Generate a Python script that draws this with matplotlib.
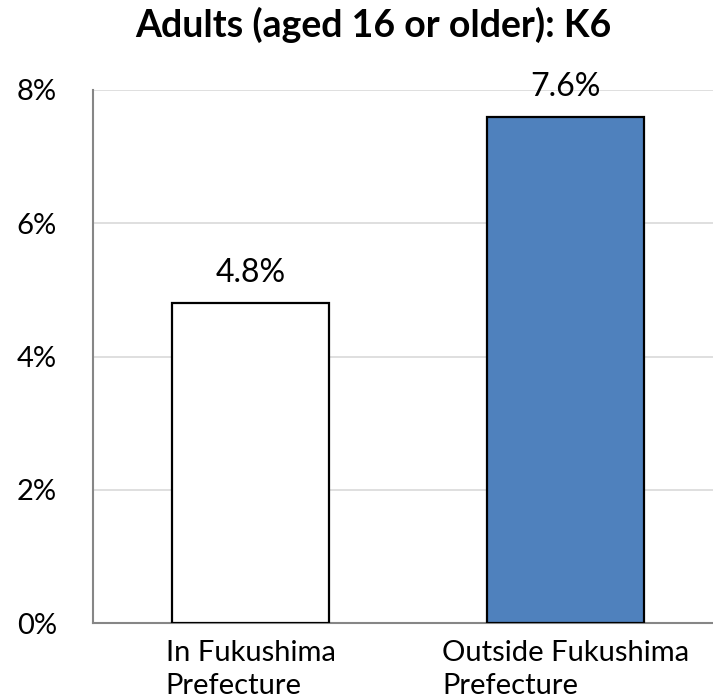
import matplotlib.pyplot as plt
from matplotlib.ticker import FuncFormatter

categories = ["In Fukushima\nPrefecture", "Outside Fukushima\nPrefecture"]
values = [4.8, 7.6]
bar_colors = ["#FFFFFF", "#4F81BD"]
yticks = [0, 2, 4, 6, 8]

plt.rcParams['font.family'] = ['Lato', 'DejaVu Sans']

fig = plt.figure(figsize=(7.13, 6.98), dpi=100)
ax = fig.add_axes([93 / 713, 75 / 698, 630 / 713, 533 / 698])

x = list(range(len(values)))
ax.bar(x, values, width=0.5, color=bar_colors, edgecolor="black", linewidth=1.6, zorder=3)

for xi, v in zip(x, values):
    ax.annotate(f"{v:.1f}%", (xi, v), xytext=(0, 15), textcoords="offset points",
                ha="center", va="baseline", fontsize=23, color="#000000", zorder=4)

ax.set_xlim(-0.5, 1.5)
ax.set_ylim(0, 8)
ax.set_yticks(yticks)
ax.yaxis.set_major_formatter(FuncFormatter(lambda v, p: f"{v:.0f}%"))
ax.set_xticks(x)
ax.set_xticklabels(categories, fontsize=21, multialignment="left", linespacing=1.35)
# Excel nudges the first label a little to the left
ax.get_xticklabels()[0].set_x(-0.03)

ax.grid(axis="y", color="#D9D9D9", linewidth=1.2, zorder=0)
ax.tick_params(axis="y", length=0, labelsize=21, pad=26)
ax.tick_params(axis="x", length=0, pad=12)

for s in ["top", "right"]:
    ax.spines[s].set_visible(False)
ax.spines["left"].set_color("#868686")
ax.spines["left"].set_linewidth(1.5)
ax.spines["bottom"].set_color("#868686")
ax.spines["bottom"].set_linewidth(1.5)

fig.text(373 / 713, 1 - 37 / 698, "Adults (aged 16 or older): K6",
         ha="center", va="baseline", fontsize=27, fontweight="bold")

fig.savefig("out.png", dpi=100)
